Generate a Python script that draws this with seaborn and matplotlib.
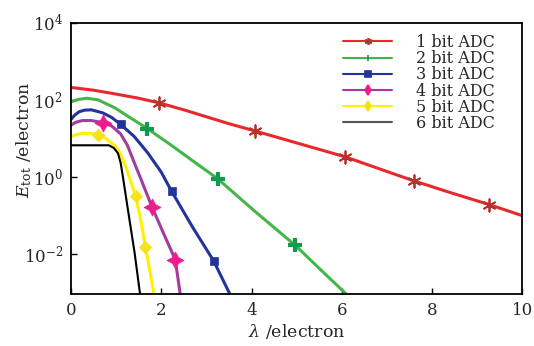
import numpy as np
import pandas as pd
import matplotlib
matplotlib.use("Agg")
import matplotlib.pyplot as plt
import matplotlib.ticker as mticker
from matplotlib.lines import Line2D
import seaborn as sns

# --- Data (lambda in electrons, E_tot in electrons) ---
x_1bit = [0, 0.5, 1, 1.5, 1.96, 2.5, 3, 3.5, 4.08, 5, 6.08, 7, 7.59, 8.5, 9.27, 10]
y_1bit = [210, 178, 141, 110, 83, 55, 36.3, 24, 15.5, 7.6, 3.3, 1.38, 0.79, 0.36, 0.19, 0.098]
mx_1bit = [1.96, 4.08, 6.08, 7.59, 9.27]
my_1bit = [83, 15.5, 3.3, 0.79, 0.19]

x_2bit = [0, 0.15, 0.35, 0.6, 0.97, 1.3, 1.69, 2.2, 2.73, 3.25, 4.1, 4.97, 5.5, 6.1]
y_2bit = [89, 102, 110, 100, 62, 35, 18, 6.9, 2.45, 0.89, 0.12, 0.0166, 0.0042, 0.0009]
mx_2bit = [1.69, 3.25, 4.97]
my_2bit = [18, 0.89, 0.0166]

x_3bit = [0, 0.08, 0.18, 0.3, 0.45, 0.7, 0.9, 1.1, 1.4, 1.7, 2.0, 2.23, 2.7, 3.16, 3.52]
y_3bit = [31, 40, 49, 54, 55, 46, 35, 23, 11.2, 4.2, 1.32, 0.42, 0.048, 0.0066, 0.0009]
mx_3bit = [1.1, 2.23, 3.16]
my_3bit = [23, 0.42, 0.0066]

x_4bit = [0, 0.1, 0.25, 0.45, 0.71, 0.9, 1.1, 1.25, 1.44, 1.54, 1.8, 2.05, 2.31, 2.42]
y_4bit = [22, 26, 29, 29, 25.6, 21, 13, 6.6, 1.8, 0.93, 0.16, 0.034, 0.0071, 0.0009]
mx_4bit = [0.71, 1.8, 2.31]
my_4bit = [25.6, 0.16, 0.0071]

x_5bit = [0, 0.1, 0.25, 0.45, 0.59, 0.8, 1.0, 1.08, 1.15, 1.24, 1.43, 1.55, 1.65, 1.84]
y_5bit = [11, 12.3, 13.5, 13.3, 12.3, 9.5, 6.0, 4.2, 2.8, 1.5, 0.32, 0.071, 0.0148, 0.0009]
mx_5bit = [0.59, 1.43, 1.65]
my_5bit = [12.3, 0.32, 0.0148]

x_6bit = [0, 0.84, 0.95, 1.04, 1.1, 1.15, 1.25, 1.41, 1.53]
y_6bit = [6.6, 6.6, 5.6, 4.1, 2.3, 1.0, 0.17, 0.0105, 0.0009]

labels = ["1 bit ADC", "2 bit ADC", "3 bit ADC", "4 bit ADC", "5 bit ADC", "6 bit ADC"]

# --- Style ---
sns.set_theme(style="white")
plt.rcParams["font.family"] = ["DejaVu Serif"]
plt.rcParams["mathtext.fontset"] = "dejavuserif"

fig = plt.figure(figsize=(5.34, 3.46), dpi=100)
ax = fig.add_axes([0.133, 0.150, 0.845, 0.784])

# (x, y, marker x, marker y, line colour, marker colour, marker, marker size)
series = [
    (x_1bit, y_1bit, mx_1bit, my_1bit, "#e8282c", "#b3322c", (6, 2, 0), 80),
    (x_2bit, y_2bit, mx_2bit, my_2bit, "#44b649", "#129a4e", "+", 110),
    (x_3bit, y_3bit, mx_3bit, my_3bit, "#22349c", "#22349c", "s", 36),
    (x_4bit, y_4bit, mx_4bit, my_4bit, "#a23d9f", "#ec1d8c", (4, 1, 0), 150),
    (x_5bit, y_5bit, mx_5bit, my_5bit, "#fff000", "#f6e21a", "D", 40),
]

for xs, ys, mxs, mys, lc, mc, mk, ms in series:
    sns.lineplot(x=xs, y=ys, ax=ax, color=lc, linewidth=2.2, sort=False, estimator=None)
    if mk == "+":
        lw_m = 3
    elif mk == (6, 2, 0):
        lw_m = 1.3
    else:
        lw_m = 0.5
    sns.scatterplot(x=mxs, y=mys, ax=ax, marker=mk, s=ms, color=mc,
                    edgecolor=mc, linewidth=lw_m, zorder=5)

sns.lineplot(x=x_6bit, y=y_6bit, ax=ax, color="black", linewidth=1.5, sort=False, estimator=None)

ax.set_yscale("log")
ax.set_xlim(0, 10)
ax.set_ylim(9e-4, 1e4)

ax.xaxis.set_major_locator(mticker.FixedLocator([0, 2, 4, 6, 8, 10]))
ax.yaxis.set_major_locator(mticker.FixedLocator([1e-2, 1, 1e2, 1e4]))
ax.yaxis.set_minor_locator(mticker.LogLocator(base=10, subs=np.arange(1, 10), numticks=30))
ax.yaxis.set_major_formatter(mticker.LogFormatterSciNotation())
ax.yaxis.set_minor_formatter(mticker.NullFormatter())

ax.tick_params(axis="both", which="major", direction="in", length=4, width=1,
               labelsize=12, color="black", pad=6)
ax.tick_params(axis="y", which="minor", direction="in", length=2.5, width=0.8, color="black")
ax.tick_params(bottom=True, left=True, top=False, right=False)
for sp in ax.spines.values():
    sp.set_color("black")
    sp.set_linewidth(1.3)

ax.set_xlabel(r"$\lambda$ /electron", fontsize=12.5, labelpad=2)
ax.set_ylabel(r"$E_{\mathrm{tot}}$ /electron", fontsize=12.5)
ax.yaxis.set_label_coords(-0.083, 0.57)

# legend with small markers like the reference
handle_style = [
    ("#e8282c", (6, 2, 0), "#b3322c"),
    ("#44b649", "|", "#129a4e"),
    ("#22349c", "s", "#22349c"),
    ("#a23d9f", "d", "#ec1d8c"),
    ("#fff000", "d", "#f6e21a"),
    ("#555555", None, None),
]
handles = []
for lc, mk, mc in handle_style:
    if mk is None:
        handles.append(Line2D([], [], color=lc, lw=1.5))
    else:
        handles.append(Line2D([], [], color=lc, lw=1.5, marker=mk, markersize=5,
                              markerfacecolor=mc, markeredgecolor=mc, markeredgewidth=1.2))
ax.legend(handles, labels, loc="upper right", bbox_to_anchor=(0.965, 1.0), frameon=False,
          fontsize=11.5, handlelength=3.1, handletextpad=1.5, labelspacing=-0.05,
          borderaxespad=0.3)

plt.savefig("out.png", dpi=100)
